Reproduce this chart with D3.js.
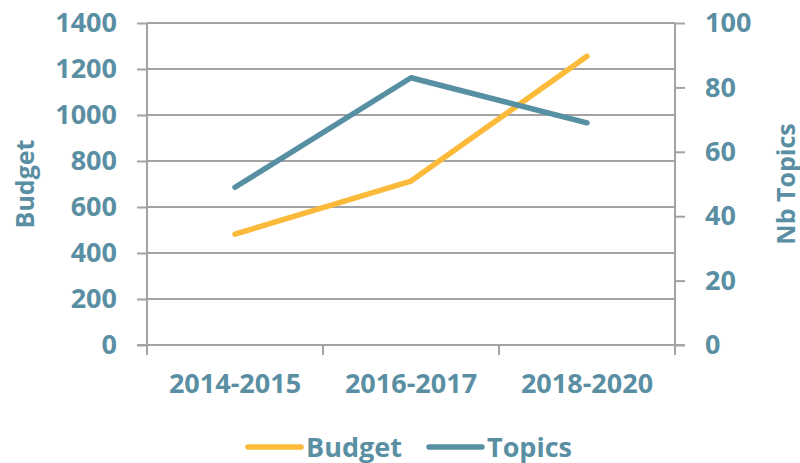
<!DOCTYPE html>
<html>
<head>
<meta charset="utf-8">
<script src="https://cdn.jsdelivr.net/npm/d3@7"></script>
<style>
  body { margin: 0; background: #fff; }
  svg { display: block; font-family: 'Open Sans', sans-serif; font-weight: 700; }
</style>
</head>
<body>
<div id="chart"></div>
<script>
const periods = ['2014-2015', '2016-2017', '2018-2020'];
const budget = [482, 713, 1255];
const topics = [49, 83, 69];
const budgetTicks = [0, 200, 400, 600, 800, 1000, 1200, 1400];
const topicTicks = [0, 20, 40, 60, 80, 100];

const width = 800, height = 463;
const margin = { top: 23, right: 125, bottom: 118, left: 147 };
const innerWidth = width - margin.left - margin.right;
const innerHeight = height - margin.top - margin.bottom;

const textColor = '#5a8fa3';
const gridColor = '#a3a3a3';
const budgetColor = '#fbba3a';
const topicColor = '#578fa3';
const fontSize = 27;

const svg = d3.select('#chart').append('svg')
  .attr('width', width).attr('height', height);
const g = svg.append('g').attr('transform', `translate(${margin.left},${margin.top})`);

const x = d3.scaleBand().domain(periods).range([0, innerWidth]).padding(0);
const yLeft = d3.scaleLinear().domain([0, 1400]).range([innerHeight, 0]);
const yRight = d3.scaleLinear().domain([0, 100]).range([innerHeight, 0]);

// horizontal grid (left axis)
g.append('g').selectAll('line').data(budgetTicks).join('line')
  .attr('x1', 0).attr('x2', innerWidth)
  .attr('y1', (d) => yLeft(d)).attr('y2', (d) => yLeft(d))
  .attr('stroke', gridColor).attr('stroke-width', 2);

// left axis
const leftAxis = g.append('g')
  .call(d3.axisLeft(yLeft).tickValues(budgetTicks).tickFormat(d3.format('d'))
    .tickSize(10).tickPadding(20));
// right axis
const rightAxis = g.append('g').attr('transform', `translate(${innerWidth},0)`)
  .call(d3.axisRight(yRight).tickValues(topicTicks).tickFormat(d3.format('d'))
    .tickSize(10).tickPadding(20));
// bottom axis
const xTickPos = [0, ...periods.map((p) => x(p) + x.bandwidth())];
const bottomAxis = g.append('g').attr('transform', `translate(0,${innerHeight})`)
  .call(d3.axisBottom(x).tickSize(0).tickPadding(29));
bottomAxis.selectAll('.tick-mark').data(xTickPos).join('line')
  .attr('class', 'tick-mark')
  .attr('x1', (d) => d).attr('x2', (d) => d).attr('y1', 0).attr('y2', 10)
  .attr('stroke', gridColor).attr('stroke-width', 2);

[leftAxis, rightAxis, bottomAxis].forEach((ax) => {
  ax.select('.domain').attr('stroke', gridColor).attr('stroke-width', 2);
  ax.selectAll('.tick line').attr('stroke', gridColor).attr('stroke-width', 2);
  ax.selectAll('text').attr('fill', textColor).attr('font-size', fontSize)
    .attr('font-family', "'Open Sans', sans-serif").attr('font-weight', 700);
});
leftAxis.select('.domain').attr('d', `M0,${innerHeight + 8}V0`);
rightAxis.select('.domain').attr('d', `M0,${innerHeight + 8}V0`);
bottomAxis.select('.domain').attr('d', `M-10,0H${innerWidth + 10}`);

// axis titles
svg.append('text')
  .attr('transform', `translate(34,${margin.top + innerHeight / 2}) rotate(-90)`)
  .attr('text-anchor', 'middle').attr('fill', textColor).attr('font-size', 25)
  .text('Budget');
svg.append('text')
  .attr('transform', `translate(795,${margin.top + innerHeight / 2}) rotate(-90)`)
  .attr('text-anchor', 'middle').attr('fill', textColor).attr('font-size', 25)
  .text('Nb Topics');

// lines
const cx = (i) => x(periods[i]) + x.bandwidth() / 2;
const budgetLine = d3.line().x((d, i) => cx(i)).y((d) => yLeft(d));
const topicLine = d3.line().x((d, i) => cx(i)).y((d) => yRight(d));

g.append('path').datum(budget).attr('d', budgetLine)
  .attr('fill', 'none').attr('stroke', budgetColor).attr('stroke-width', 5.5)
  .attr('stroke-linecap', 'round').attr('stroke-linejoin', 'round');
g.append('path').datum(topics).attr('d', topicLine)
  .attr('fill', 'none').attr('stroke', topicColor).attr('stroke-width', 5.5)
  .attr('stroke-linecap', 'round').attr('stroke-linejoin', 'round');

// legend
const legend = svg.append('g').attr('transform', 'translate(0,447)');
[
  { label: 'Budget', color: budgetColor, x0: 248 },
  { label: 'Topics', color: topicColor, x0: 429 },
].forEach(({ label, color, x0 }) => {
  legend.append('line')
    .attr('x1', x0).attr('x2', x0 + 53).attr('y1', 0).attr('y2', 0)
    .attr('stroke', color).attr('stroke-width', 5.5).attr('stroke-linecap', 'round');
  legend.append('text')
    .attr('x', x0 + 58).attr('y', 10)
    .attr('fill', textColor).attr('font-size', fontSize)
    .text(label);
});
</script>
</body>
</html>
